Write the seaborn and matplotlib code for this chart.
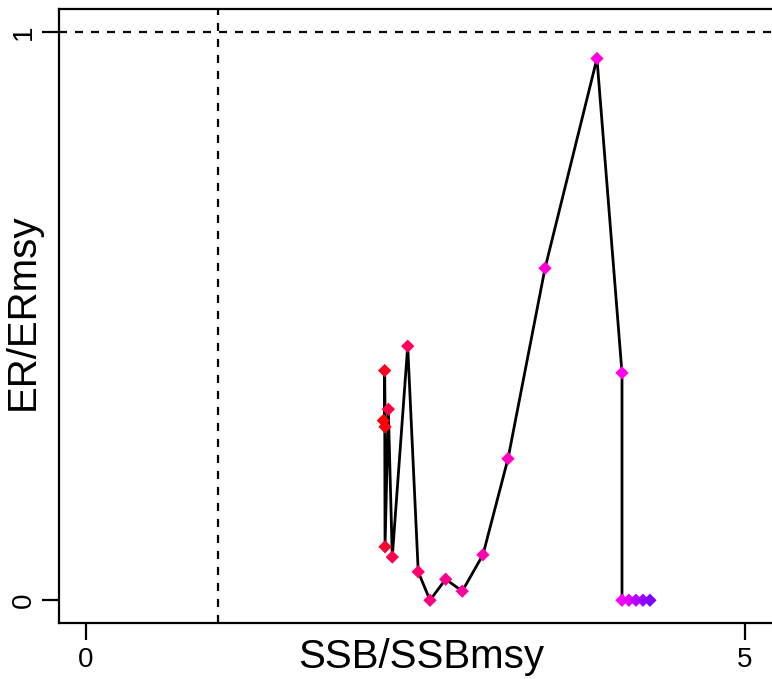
import numpy as np
import pandas as pd
import seaborn as sns
import matplotlib
matplotlib.use("Agg")
import matplotlib.pyplot as plt
from matplotlib.colors import LinearSegmentedColormap

# values (time order)
ssb_ratio = [2.256, 2.269, 2.266, 2.269, 2.294, 2.324, 2.441, 2.521, 2.610, 2.729, 2.855,
             3.012, 3.202, 3.483, 3.877, 4.067, 4.067, 4.120, 4.173, 4.226, 4.279]
er_ratio = [0.316, 0.305, 0.404, 0.094, 0.336, 0.076, 0.447, 0.050, 0.000, 0.037, 0.016,
            0.080, 0.249, 0.584, 0.953, 0.400, 0.000, 0.000, 0.000, 0.000, 0.000]
x_ticks = [0, 5]
y_ticks = [0, 1]

df = pd.DataFrame({'ssb': ssb_ratio, 'er': er_ratio})
df['step'] = np.arange(len(df))

sns.set_style("white")
plt.rcParams['font.family'] = ['Liberation Sans', 'DejaVu Sans']
plt.rcParams['text.color'] = 'black'
plt.rcParams['xtick.color'] = 'black'
plt.rcParams['ytick.color'] = 'black'

# red -> magenta -> violet colour ramp over time
cmap = LinearSegmentedColormap.from_list('ramp', [(0.0, '#FF0000'), (0.8, '#FF00FF'), (1.0, '#8000FF')])

fig = plt.figure(figsize=(7.72, 6.79), dpi=100)
# plot region runs a little past the right edge of the picture
ax = fig.add_axes([0.0764, 0.0825, 0.9391, 0.9042])

# reference lines
ax.axhline(1, color='black', lw=1.6, dashes=(3.6, 3.6), zorder=1)
ax.axvline(1, color='black', lw=1.6, dashes=(3.6, 3.6), zorder=1)

# trajectory
sns.lineplot(data=df, x='ssb', y='er', sort=False, estimator=None, color='black',
             lw=2.0, ax=ax, zorder=2)
sns.scatterplot(data=df, x='ssb', y='er', hue='step', palette=cmap, hue_norm=(0, len(df) - 1),
                marker='D', s=46, linewidth=0, legend=False, ax=ax, zorder=3)

ax.set_xlim(-0.205, 5.296)
ax.set_ylim(-0.04, 1.04)
ax.set_xticks(x_ticks)
ax.set_yticks(y_ticks)
ax.set_xticklabels([str(t) for t in x_ticks])
ax.set_yticklabels([str(t) for t in y_ticks], rotation=90, va='center')
ax.tick_params(axis='both', direction='out', length=12, width=1.6, labelsize=20,
               color='black', labelcolor='black', bottom=True, left=True)
ax.tick_params(axis='x', pad=5)
ax.tick_params(axis='y', pad=4)
ax.set_xlabel('')
ax.set_ylabel('')
for sp in ax.spines.values():
    sp.set_visible(True)
    sp.set_linewidth(1.6)
    sp.set_color('black')

fig.text(0.5453, 0.0162, 'SSB/SSBmsy', fontsize=29, ha='center', va='baseline', color='black')
fig.text(0.0298, 0.5405, 'ER/ERmsy', fontsize=29, ha='center', va='center', rotation=90, color='black')

fig.savefig('out.png', dpi=100)
